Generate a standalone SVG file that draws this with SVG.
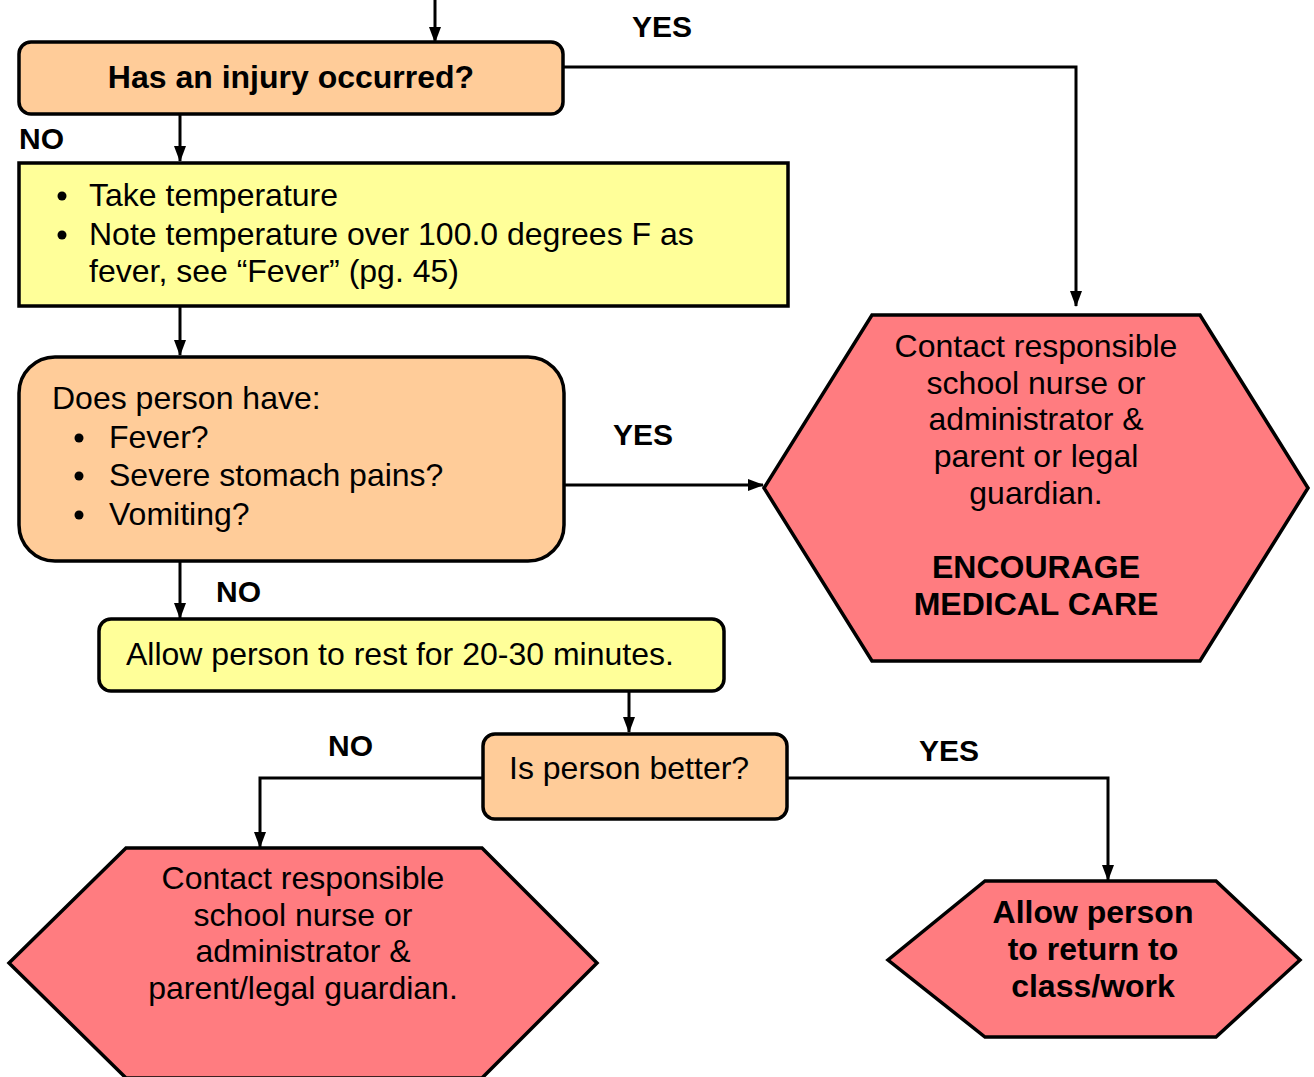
<svg xmlns="http://www.w3.org/2000/svg" width="1314" height="1077" viewBox="0 0 1314 1077">
<style>
text{font-family:"Liberation Sans",Arial,sans-serif;fill:#000}
.t{font-size:32px}
.b{font-size:32px;font-weight:bold}
.lbl{font-size:30px;font-weight:bold}
.orange{fill:#FFCC99;stroke:#000;stroke-width:3.5}
.yellow{fill:#FFFF99;stroke:#000;stroke-width:3.5}
.red{fill:#FF7C80;stroke:#000;stroke-width:3.5}
.c{fill:none;stroke:#000;stroke-width:3;marker-end:url(#ah)}
.mid{text-anchor:middle}
</style>
<defs>
<marker id="ah" markerUnits="userSpaceOnUse" markerWidth="16" markerHeight="16" viewBox="0 0 16 16" refX="15" refY="8" orient="auto">
<path d="M0,2 L16,8 L0,14 Z" fill="#000"/>
</marker>
</defs>
<rect width="1314" height="1077" fill="#fff"/>
<g id="connectors">
<path class="c" d="M435,0 V42"/>
<path class="c" d="M563,67 H1076 V306"/>
<path class="c" d="M180,114 V161"/>
<path class="c" d="M180,306 V355"/>
<path class="c" d="M564,485 H763"/>
<path class="c" d="M180,561 V618"/>
<path class="c" d="M629,691 V732"/>
<path class="c" d="M483,778 H260 V847"/>
<path class="c" d="M787,778 H1108 V880"/>
</g>
<g id="labels">
<text class="lbl" x="632" y="37">YES</text>
<text class="lbl" x="19" y="149">NO</text>
<text class="lbl" x="613" y="445">YES</text>
<text class="lbl" x="216" y="602">NO</text>
<text class="lbl" x="328" y="756">NO</text>
<text class="lbl" x="919" y="761">YES</text>
</g>
<g id="n1">
<rect class="orange" x="19" y="42" width="544" height="72" rx="12"/>
<text class="b mid" x="291" y="88">Has an injury occurred?</text>
</g>
<g id="n2">
<rect class="yellow" x="19" y="163" width="769" height="143"/>
<circle cx="62" cy="196" r="4.5"/>
<text class="t" x="89" y="206">Take temperature</text>
<circle cx="62" cy="235" r="4.5"/>
<text class="t" x="89" y="245">Note temperature over 100.0 degrees F as</text>
<text class="t" x="89" y="282">fever, see “Fever” (pg. 45)</text>
</g>
<g id="n3">
<rect class="orange" x="19" y="357" width="545" height="204" rx="36"/>
<text class="t" x="52" y="409">Does person have:</text>
<circle cx="79" cy="438" r="4.5"/>
<text class="t" x="109" y="448">Fever?</text>
<circle cx="79" cy="476" r="4.5"/>
<text class="t" x="109" y="486">Severe stomach pains?</text>
<circle cx="79" cy="515" r="4.5"/>
<text class="t" x="109" y="525">Vomiting?</text>
</g>
<g id="n4">
<polygon class="red" points="872,315 1200,315 1308,488 1200,661 872,661 764,488"/>
<text class="t mid" x="1036" y="357">Contact responsible</text>
<text class="t mid" x="1036" y="394">school nurse or</text>
<text class="t mid" x="1036" y="430">administrator &amp;</text>
<text class="t mid" x="1036" y="467">parent or legal</text>
<text class="t mid" x="1036" y="504">guardian.</text>
<text class="b mid" x="1036" y="578">ENCOURAGE</text>
<text class="b mid" x="1036" y="615">MEDICAL CARE</text>
</g>
<g id="n5">
<rect class="yellow" x="99" y="619" width="625" height="72" rx="12"/>
<text class="t" x="126" y="665">Allow person to rest for 20-30 minutes.</text>
</g>
<g id="n6">
<rect class="orange" x="483" y="734" width="304" height="85" rx="12"/>
<text class="t" x="509" y="779">Is person better?</text>
</g>
<g id="n7">
<polygon class="red" points="126,848 482,848 597,963 482,1078 126,1078 9,963"/>
<text class="t mid" x="303" y="889">Contact responsible</text>
<text class="t mid" x="303" y="926">school nurse or</text>
<text class="t mid" x="303" y="962">administrator &amp;</text>
<text class="t mid" x="303" y="999">parent/legal guardian.</text>
</g>
<g id="n8">
<polygon class="red" points="985,881 1216,881 1300,960 1216,1037 985,1037 888,960"/>
<text class="b mid" x="1093" y="923">Allow person</text>
<text class="b mid" x="1093" y="960">to return to</text>
<text class="b mid" x="1093" y="997">class/work</text>
</g>
</svg>
